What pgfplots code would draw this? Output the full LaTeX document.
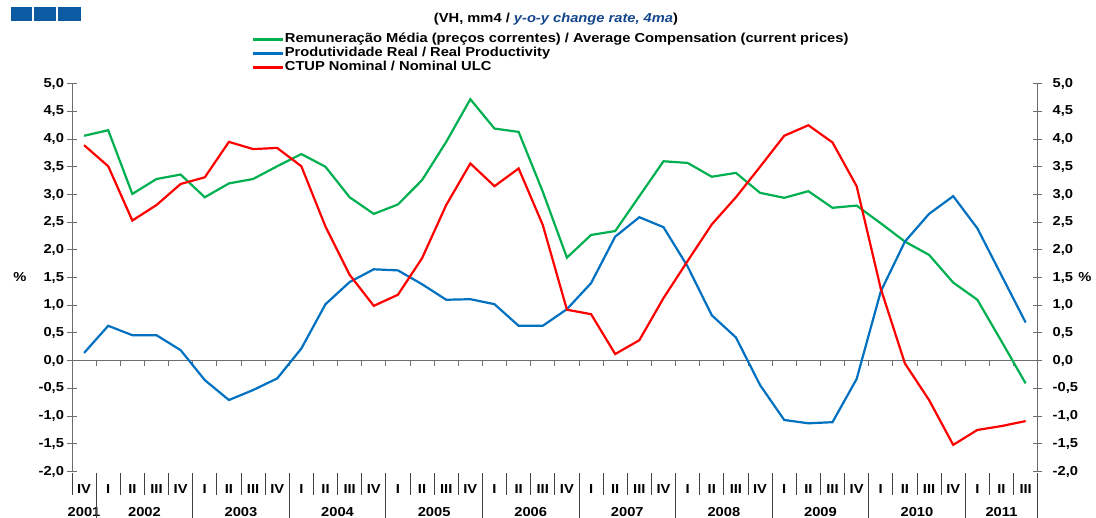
\documentclass[border=0pt]{standalone}
\usepackage{pgfplots}
\pgfplotsset{compat=1.18}
\usepackage{pgfplotstable}
\usepackage{fontspec}
\setmainfont{Liberation Sans}[FakeStretch=1.13]
\definecolor{cgreen}{RGB}{0,176,80}
\definecolor{cblue}{RGB}{0,112,192}
\definecolor{cred}{RGB}{255,0,0}
\definecolor{logo}{RGB}{11,90,162}
\definecolor{titleblue}{RGB}{20,70,140}
\definecolor{axgray}{RGB}{110,110,110}
\newcommand{\lbl}{\fontsize{13}{15}\selectfont\bfseries}

\pgfplotstableread{
x g b r
0 4.06 0.14 3.89
1 4.16 0.63 3.51
2 3.01 0.46 2.53
3 3.28 0.46 2.81
4 3.36 0.19 3.19
5 2.95 -0.35 3.31
6 3.20 -0.71 3.95
7 3.28 -0.53 3.82
8 3.51 -0.32 3.84
9 3.73 0.22 3.51
10 3.50 1.02 2.42
11 2.95 1.42 1.55
12 2.65 1.65 0.99
13 2.82 1.63 1.19
14 3.26 1.38 1.85
15 3.95 1.10 2.81
16 4.72 1.11 3.56
17 4.19 1.02 3.15
18 4.13 0.63 3.47
19 3.05 0.63 2.45
20 1.86 0.93 0.92
21 2.27 1.40 0.84
22 2.34 2.24 0.12
23 2.97 2.59 0.37
24 3.60 2.41 1.13
25 3.57 1.70 1.80
26 3.32 0.82 2.46
27 3.39 0.42 2.95
28 3.03 -0.44 3.50
29 2.94 -1.07 4.06
30 3.06 -1.13 4.25
31 2.76 -1.11 3.94
32 2.80 -0.33 3.15
33 2.48 1.25 1.30
34 2.15 2.15 -0.05
35 1.91 2.65 -0.71
36 1.41 2.97 -1.52
37 1.10 2.39 -1.25
38 0.35 1.54 -1.18
39 -0.41 0.69 -1.09
}\data

\begin{document}
\begin{tikzpicture}[x=1pt,y=1pt,font=\lbl]
\useasboundingbox (0,0) rectangle (1096,518);
% logo
\fill[logo] (11,497.3) rectangle (32,511.3);
\fill[logo] (34,497.3) rectangle (56,511.3);
\fill[logo] (58,497.3) rectangle (80.5,511.3);
% title
\node at (556,499) {(VH, mm4 / \textcolor{titleblue}{\itshape y-o-y change rate, 4ma})};
% percent labels
\node at (20,241) {\%};
\node at (1085,241) {\%};

\begin{axis}[
  at={(72pt,46.5pt)}, anchor=south west,
  width=965.7pt, height=387.8pt, scale only axis,
  xmin=-0.5, xmax=39.5, ymin=-2, ymax=5,
  clip=false,
  axis y line*=left, axis x line*=bottom,
  x axis line style={draw=none},
  y axis line style={axgray, line width=1pt},
  ytick={-2,-1.5,...,5},
  tick align=center,
  major tick length=9pt,
  y tick style={axgray, line width=1pt},
  yticklabel style={/pgf/number format/.cd, fixed, fixed zerofill, precision=1, use comma, assume math mode=true, /tikz/.cd, font=\lbl},
  xtick={0,...,39},
  xticklabels={IV,I,II,III,IV,I,II,III,IV,I,II,III,IV,I,II,III,IV,I,II,III,IV,I,II,III,IV,I,II,III,IV,I,II,III,IV,I,II,III,IV,I,II,III},
  x tick style={draw=none},
  xticklabel style={anchor=center, yshift=-13pt, font=\lbl},
  extra x ticks={0,2.5,6.5,10.5,14.5,18.5,22.5,26.5,30.5,34.5,38},
  extra x tick labels={2001,2002,2003,2004,2005,2006,2007,2008,2009,2010,2011},
  extra x tick style={major tick length=0pt, xticklabel style={yshift=-28pt}},
  legend style={at={(0.1864,1.1307)}, anchor=north west, draw=none, fill=none, inner sep=0pt, row sep=1.5pt, nodes={inner sep=0.5pt, text height=9pt, text depth=2.5pt, font=\lbl}},
  legend cell align=left,
  legend image code/.code={\draw[#1] (0pt,0pt) -- (30pt,0pt);},
]
\draw[axgray, line width=1pt] (axis cs:-0.5,0) -- (axis cs:39.5,0);
\pgfplotsinvokeforeach{0.5,1.5,...,38.5}{\draw[axgray, line width=0.8pt] (axis cs:#1,0) -- ++(0pt,-5pt);}
\pgfplotsinvokeforeach{-0.5,1.5,2.5,3.5,5.5,6.5,7.5,9.5,10.5,11.5,13.5,14.5,15.5,17.5,18.5,19.5,21.5,22.5,23.5,25.5,26.5,27.5,29.5,30.5,31.5,33.5,34.5,35.5,37.5,38.5}{\draw[black!75, line width=0.8pt] (axis cs:#1,-2) ++(0pt,-2pt) -- ++(0pt,-22pt);}
\pgfplotsinvokeforeach{0.5,4.5,8.5,12.5,16.5,20.5,24.5,28.5,32.5,36.5,39.5}{\draw[black!75, line width=0.8pt] (axis cs:#1,-2) ++(0pt,-2pt) -- ++(0pt,-46pt);}
\addplot[cgreen, line width=2.2pt] table[x=x,y=g]{\data};
\addplot[cblue, line width=2.2pt] table[x=x,y=b]{\data};
\addplot[cred, line width=2.2pt] table[x=x,y=r]{\data};
\legend{Remunera\c{c}\~ao M\'edia (pre\c{c}os correntes) / Average Compensation (current prices),
Produtividade Real / Real Productivity,
CTUP Nominal / Nominal ULC}
\end{axis}

\begin{axis}[
  at={(72pt,46.5pt)}, anchor=south west,
  width=965.7pt, height=387.8pt, scale only axis,
  xmin=-0.5, xmax=39.5, ymin=-2, ymax=5,
  axis y line*=right, hide x axis,
  y axis line style={axgray, line width=1pt},
  ytick={-2,-1.5,...,5},
  tick align=center,
  major tick length=9pt,
  y tick style={axgray, line width=1pt},
  yticklabel style={xshift=7pt, /pgf/number format/.cd, fixed, fixed zerofill, precision=1, use comma, assume math mode=true, /tikz/.cd, font=\lbl},
]
\addplot[draw=none] coordinates {(0,0)};
\end{axis}
\end{tikzpicture}
\end{document}
